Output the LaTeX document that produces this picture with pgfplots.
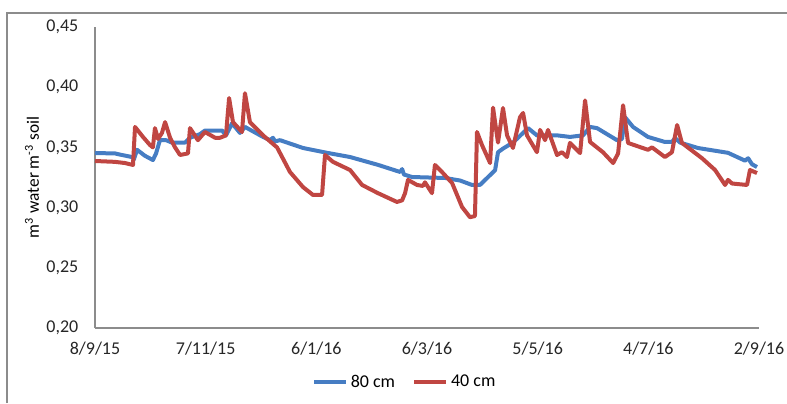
\documentclass[border=0pt]{standalone}
\usepackage{pgfplots}
\pgfplotsset{compat=1.18}
\usepackage{fontspec}
\setmainfont{Carlito}
\definecolor{blueS}{RGB}{70,125,195}
\definecolor{redS}{RGB}{192,70,66}
\definecolor{axg}{RGB}{140,140,140}
\begin{document}
\begin{tikzpicture}
\useasboundingbox (0,0) rectangle (590.25pt,302.25pt);
\draw[axg, line width=1.2pt] (5.25pt,0) -- (5.25pt,292.5pt) -- (592pt,292.5pt);
\begin{axis}[
  at={(71.25pt,56.25pt)}, anchor=south west,
  scale only axis, width=498pt, height=225.75pt,
  xmin=0, xmax=360, ymin=0.20, ymax=0.45,
  axis x line*=bottom, axis y line*=left,
  axis line style={axg, line width=0.9pt, -},
  xtick={0,60,...,360},
  xticklabels={8/9/15,7/11/15,6/1/16,6/3/16,5/5/16,4/7/16,2/9/16},
  ytick={0.20,0.25,...,0.46},
  major tick length=0pt,
  tick label style={font=\fontsize{13.5}{16}\selectfont, text=black!85},
  yticklabel style={/pgf/number format/.cd, use comma, fixed, fixed zerofill, precision=2, /tikz/.cd, xshift=-9pt},
  xticklabel style={yshift=-7pt},
  /pgf/number format/assume math mode=true,
  ylabel={m\textsuperscript{3} water m\textsuperscript{-3} soil},
  every axis y label/.style={at={(axis description cs:-0.0949,0.5)}, rotate=90, anchor=center, font=\fontsize{13}{16}\selectfont},
  legend style={at={(axis description cs:0.467,-0.179)}, anchor=center, draw=none, fill=none, font=\fontsize{13.5}{16}\selectfont, /tikz/every even column/.append style={column sep=11pt}},
  legend columns=2,
  legend image code/.code={\draw[#1, line width=3pt] (0pt,0pt) -- (24pt,0pt);},
  clip=false,
]
\addplot[blueS, line width=3pt, line join=round] coordinates {
(0,0.3453) (10.8,0.345) (13.6,0.344) (20.1,0.342) (21.1,0.340) (22.8,0.348) (27.1,0.343) (31.4,0.3395) (33.1,0.345) (35.2,0.356) (38.5,0.356) (41.7,0.354) (48.8,0.354) (51.5,0.358) (56.9,0.361) (59.6,0.364) (68.9,0.364) (71.0,0.360) (74.3,0.370) (78.6,0.362) (81.3,0.367) (91.1,0.3587) (94.9,0.356) (96.5,0.358) (97.6,0.355) (100.3,0.356) (112.8,0.3495) (125.8,0.3455) (138.3,0.342) (153.4,0.3355) (165.4,0.3296) (166.5,0.332) (167.5,0.3275) (171.9,0.3254) (189.8,0.3246) (197.9,0.3225) (204.4,0.3188) (208.7,0.3188) (214.2,0.327) (216.9,0.331) (218.5,0.346) (221.2,0.349) (226.6,0.354) (234.8,0.366) (239.6,0.360) (250.5,0.360) (257.5,0.3587) (264.6,0.360) (268.4,0.367) (272.2,0.366) (283.0,0.356) (285.7,0.357) (287.4,0.375) (291.7,0.367) (299.8,0.3587) (309.0,0.3545) (312.8,0.3545) (314.5,0.3578) (317.2,0.354) (326.9,0.3495) (343.2,0.3455) (352.4,0.339) (354.1,0.341) (356.2,0.336) (358.9,0.3337)
};
\addlegendentry{80 cm}
\addplot[redS, line width=3pt, line join=round] coordinates {
(0,0.3387) (10.8,0.338) (16.3,0.337) (20.6,0.3354) (21.7,0.367) (26.0,0.3587) (29.8,0.352) (31.4,0.350) (32.5,0.366) (34.2,0.357) (36.3,0.362) (38.0,0.371) (40.7,0.358) (43.4,0.350) (46.1,0.3437) (50.4,0.345) (51.5,0.366) (55.8,0.356) (59.6,0.3628) (65.1,0.358) (67.8,0.358) (71.0,0.360) (72.7,0.391) (74.8,0.371) (79.7,0.3628) (81.3,0.395) (84.0,0.371) (91.1,0.360) (98.7,0.350) (105.7,0.3296) (112.8,0.317) (118.2,0.3105) (123.1,0.3105) (124.7,0.3437) (129.0,0.338) (138.3,0.3312) (144.8,0.3188) (153.4,0.312) (163.7,0.3047) (166.5,0.306) (168.1,0.312) (169.7,0.323) (174.6,0.3188) (177.8,0.318) (178.9,0.321) (182.7,0.312) (184.3,0.3354) (188.1,0.3296) (193.6,0.3204) (199.0,0.3005) (203.3,0.292) (206.0,0.293) (207.1,0.3628) (209.8,0.352) (214.2,0.337) (215.8,0.383) (218.5,0.354) (221.2,0.3827) (223.4,0.360) (226.6,0.3495) (230.4,0.375) (232.1,0.3786) (234.2,0.360) (239.6,0.346) (241.3,0.3645) (244.0,0.356) (245.6,0.3645) (250.5,0.3437) (253.2,0.346) (255.9,0.342) (257.5,0.3537) (263.0,0.3453) (265.7,0.389) (268.4,0.3545) (275.4,0.346) (280.9,0.337) (283.6,0.345) (286.3,0.385) (289.0,0.3537) (299.8,0.348) (302.0,0.350) (309.0,0.342) (312.8,0.346) (315.6,0.3686) (318.2,0.3537) (329.1,0.341) (336.2,0.3312) (341.6,0.3188) (343.2,0.323) (345.4,0.320) (353.5,0.3188) (355.1,0.3312) (358.9,0.3287)
};
\addlegendentry{40 cm}
\end{axis}
\end{tikzpicture}
\end{document}
